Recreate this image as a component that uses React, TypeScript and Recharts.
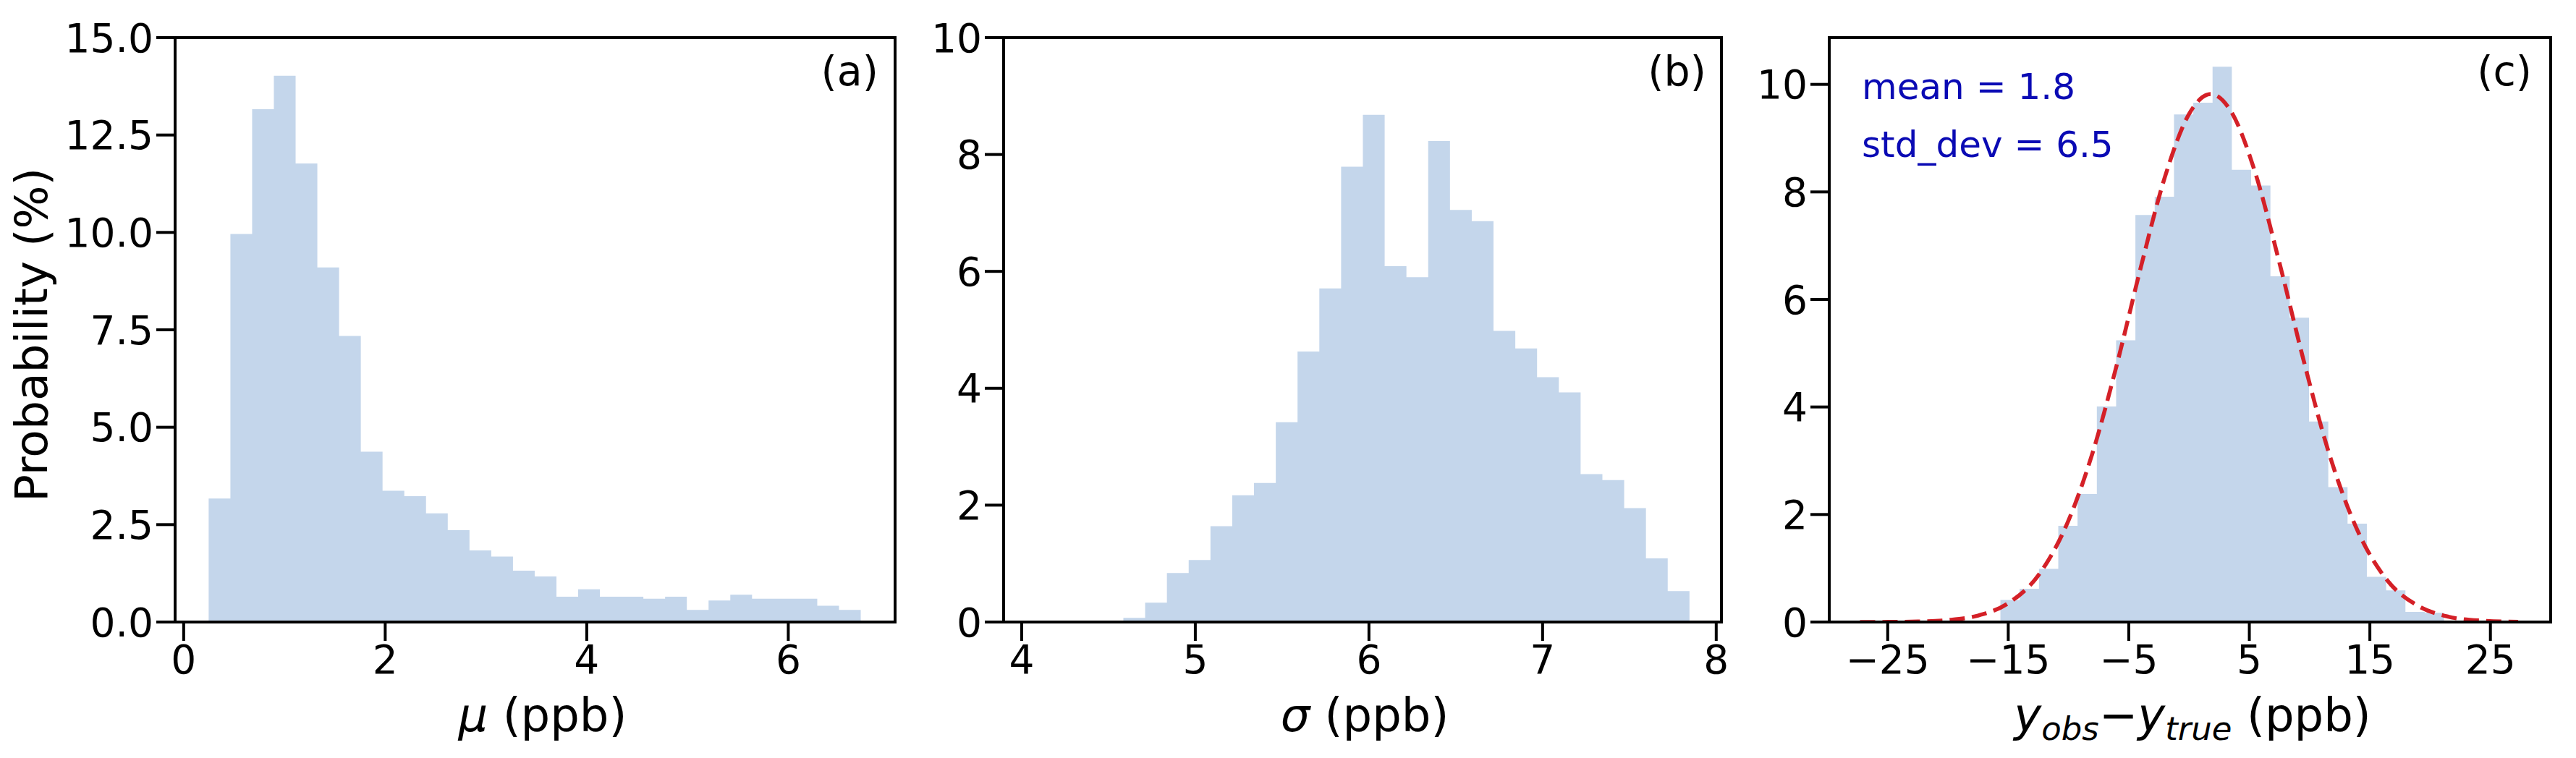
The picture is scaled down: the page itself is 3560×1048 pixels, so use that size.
import React from 'react';
import { ComposedChart, Area, Line, XAxis, YAxis, ReferenceArea } from 'recharts';

// ---------- Panel (a): mu ----------
const muBinStart = 0.248;
const muBinWidth = 0.2157;
const muProb = [
  3.17, 9.96, 13.16, 14.02, 11.77, 9.1, 7.34, 4.37, 3.37, 3.23,
  2.79, 2.36, 1.84, 1.68, 1.32, 1.17, 0.65, 0.84, 0.65, 0.65,
  0.6, 0.65, 0.31, 0.55, 0.7, 0.6, 0.6, 0.6, 0.42, 0.31,
];
const muDomain: [number, number] = [-0.085, 7.06];
const muTicks = [0, 2, 4, 6];
const probTicksA = [0, 2.5, 5, 7.5, 10, 12.5, 15];
const probDomainA: [number, number] = [0, 15];

// ---------- Panel (b): sigma ----------
const sigmaBinStart = 4.084;
const sigmaBinWidth = 0.1254;
const sigmaProb = [
  0, 0, 0, 0, 0.07, 0.33, 0.84, 1.06, 1.64, 2.17,
  2.38, 3.42, 4.63, 5.71, 7.79, 8.68, 6.09, 5.9, 8.23, 7.05,
  6.86, 4.98, 4.68, 4.19, 3.93, 2.53, 2.43, 1.95, 1.09, 0.53,
];
const sigmaDomain: [number, number] = [3.896, 8.03];
const sigmaTicks = [4, 5, 6, 7, 8];
const probTicksB = [0, 2, 4, 6, 8, 10];
const probDomainB: [number, number] = [0, 10];

// ---------- Panel (c): y_obs - y_true ----------
const errBinStart = -15.65;
const errBinWidth = 1.6;
const errProb = [
  0.41, 0.62, 0.99, 1.79, 2.38, 4.01, 5.24, 7.57, 7.91, 9.44,
  9.66, 10.33, 8.41, 8.12, 6.43, 5.66, 3.73, 2.51, 1.83, 0.84,
  0.59, 0.19, 0.17,
];
const fitX = [-27.3, -25, -22.5, -20, -17.5, -15, -12.5, -10, -8, -6, -4, -2, 0, 1.8, 3.5, 5.5, 7.5, 9.5, 11.5, 14, 16.5, 19, 21.5, 24, 27.3];
const fitY = [0.001, 0.002, 0.009, 0.036, 0.12, 0.35, 0.87, 1.89, 3.15, 4.78, 6.6, 8.28, 9.45, 9.82, 9.49, 8.35, 6.68, 4.87, 3.22, 1.69, 0.76, 0.3, 0.1, 0.029, 0.003];
const errDomain: [number, number] = [-29.85, 30.0];
const errTicks = [-25, -15, -5, 5, 15, 25];
const probTicksC = [0, 2, 4, 6, 8, 10];
const probDomainC: [number, number] = [0, 10.87];

const statLines = ['mean = 1.8', 'std_dev = 6.5'];

// ---------- styling ----------
const W = 3560;
const H = 1048;
const FONT = 'DejaVu Sans';
const BAR = '#c4d6eb';
const RED = '#d42027';
const BLUE = '#0a0ab4';
const AX = { stroke: '#000', strokeWidth: 4 };
const TICK = { fontSize: 55, fill: '#000', fontFamily: FONT };

function histPoints(start: number, width: number, values: number[]) {
  const pts = values.map((v, i) => ({ x: start + i * width, y: v }));
  pts.push({ x: start + values.length * width, y: values[values.length - 1] });
  return pts;
}

const minusFmt = (v: number) => (v < 0 ? '\u2212' + Math.abs(v) : String(v));

type PanelProps = {
  left: number;
  width: number;
  yAxisWidth: number;
  marginRight: number;
  xDomain: [number, number];
  yDomain: [number, number];
  xTicks: number[];
  yTicks: number[];
  xFmt: (v: number) => string;
  yFmt: (v: number) => string;
  hist: { x: number; y: number }[];
  curve?: { x: number; y: number }[];
};

function Panel(p: PanelProps) {
  return (
    <div style={{ position: 'absolute', left: p.left, top: 0, width: p.width, height: H }}>
      <ComposedChart width={p.width} height={H} margin={{ top: 52, right: p.marginRight, bottom: 0, left: 0 }}>
        <XAxis
          type="number"
          dataKey="x"
          domain={p.xDomain}
          allowDataOverflow
          ticks={p.xTicks}
          interval={0}
          tickFormatter={p.xFmt}
          height={188}
          tickSize={26}
          tickMargin={6}
          axisLine={AX}
          tickLine={AX}
          tick={TICK}
        />
        <YAxis
          type="number"
          domain={p.yDomain}
          allowDataOverflow
          ticks={p.yTicks}
          interval={0}
          tickFormatter={p.yFmt}
          width={p.yAxisWidth}
          tickSize={26}
          tickMargin={4}
          axisLine={AX}
          tickLine={AX}
          tick={TICK}
        />
        <Area
          data={p.hist}
          dataKey="y"
          type="stepAfter"
          stroke="none"
          fill={BAR}
          fillOpacity={1}
          isAnimationActive={false}
          dot={false}
          activeDot={false}
        />
        {p.curve && (
          <Line
            data={p.curve}
            dataKey="y"
            type="monotone"
            stroke={RED}
            strokeWidth={5.5}
            strokeDasharray="21 10"
            dot={false}
            activeDot={false}
            isAnimationActive={false}
          />
        )}
        <ReferenceArea
          x1={p.xDomain[0]}
          x2={p.xDomain[1]}
          y1={p.yDomain[0]}
          y2={p.yDomain[1]}
          ifOverflow="visible"
          fill="none"
          fillOpacity={0}
          stroke="#000"
          strokeWidth={4}
        />
      </ComposedChart>
    </div>
  );
}

export default function App() {
  const muHist = histPoints(muBinStart, muBinWidth, muProb);
  const sigmaHist = histPoints(sigmaBinStart, sigmaBinWidth, sigmaProb);
  const errHist = histPoints(errBinStart, errBinWidth, errProb);
  const fit = fitX.map((x, i) => ({ x, y: fitY[i] }));

  return (
    <div style={{ position: 'absolute', left: 0, top: 0, width: W, height: H, background: '#fff', overflow: 'hidden', fontFamily: FONT }}>
      <Panel
        left={0}
        width={1250}
        yAxisWidth={242}
        marginRight={13}
        xDomain={muDomain}
        yDomain={probDomainA}
        xTicks={muTicks}
        yTicks={probTicksA}
        xFmt={(v) => String(v)}
        yFmt={(v) => v.toFixed(1)}
        hist={muHist}
      />
      <Panel
        left={1250}
        width={1150}
        yAxisWidth={137}
        marginRight={21}
        xDomain={sigmaDomain}
        yDomain={probDomainB}
        xTicks={sigmaTicks}
        yTicks={probTicksB}
        xFmt={(v) => String(v)}
        yFmt={(v) => String(v)}
        hist={sigmaHist}
      />
      <Panel
        left={2400}
        width={1160}
        yAxisWidth={128}
        marginRight={35}
        xDomain={errDomain}
        yDomain={probDomainC}
        xTicks={errTicks}
        yTicks={probTicksC}
        xFmt={minusFmt}
        yFmt={(v) => String(v)}
        hist={errHist}
        curve={fit}
      />
      <svg
        width={W}
        height={H}
        style={{ position: 'absolute', left: 0, top: 0, pointerEvents: 'none' }}
        fontFamily={FONT}
      >
        <text x={65} y={463} transform="rotate(-90 65 463)" textAnchor="middle" fontSize={63} fill="#000">
          Probability (%)
        </text>
        <text x={750} y={1011} textAnchor="middle" fontSize={64} fill="#000">
          <tspan fontStyle="italic">μ</tspan>
          <tspan>{'\u00a0(ppb)'}</tspan>
        </text>
        <text x={1886} y={1011} textAnchor="middle" fontSize={64} fill="#000">
          <tspan fontStyle="italic">σ</tspan>
          <tspan>{'\u00a0(ppb)'}</tspan>
        </text>
        <text x={3030} y={1011} textAnchor="middle" fontSize={64} fill="#000">
          <tspan fontStyle="italic">y</tspan>
          <tspan fontStyle="italic" fontSize={45} dy={12}>obs</tspan>
          <tspan dy={-12}>{'\u2212'}</tspan>
          <tspan fontStyle="italic">y</tspan>
          <tspan fontStyle="italic" fontSize={45} dy={12}>true</tspan>
          <tspan dy={-12}>{'\u00a0(ppb)'}</tspan>
        </text>
        <text x={1214} y={118} textAnchor="end" fontSize={57} fill="#000">(a)</text>
        <text x={2358} y={118} textAnchor="end" fontSize={57} fill="#000">(b)</text>
        <text x={3499} y={118} textAnchor="end" fontSize={57} fill="#000">(c)</text>
        <text x={2573} y={137} fontSize={50} fill={BLUE}>{statLines[0]}</text>
        <text x={2573} y={217} fontSize={50} fill={BLUE}>{statLines[1]}</text>
      </svg>
    </div>
  );
}
